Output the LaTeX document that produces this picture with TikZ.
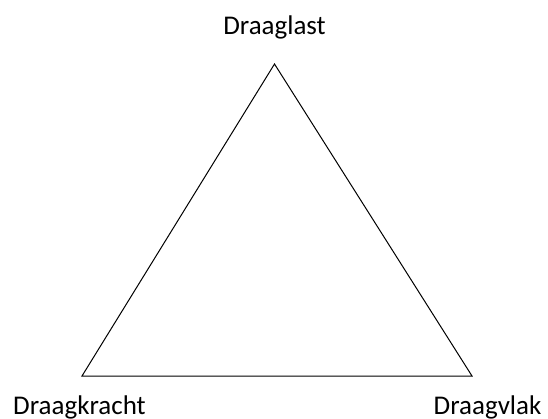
\documentclass[tikz,border=0pt]{standalone}
\usepackage{fontspec}
\setmainfont{Carlito}
\begin{document}
\begin{tikzpicture}[x=1pt,y=-1pt,
  lbl/.style={anchor=base,inner sep=0pt,font=\fontsize{27}{32}\selectfont},
  edge/.style={draw=black,line width=1pt,line join=miter}]
\useasboundingbox (0,0) rectangle (548,419);
\coordinate (top) at (274.5,64);
\coordinate (bl) at (82,376);
\coordinate (br) at (472,376);
\node[lbl] (last) at (274.5,35) {Draaglast};
\node[lbl] (kracht) at (79.5,414) {Draagkracht};
\node[lbl] (vlak) at (487.5,414) {Draagvlak};
\draw[edge] (top) -- (br) -- (bl) -- cycle;
\end{tikzpicture}
\end{document}
